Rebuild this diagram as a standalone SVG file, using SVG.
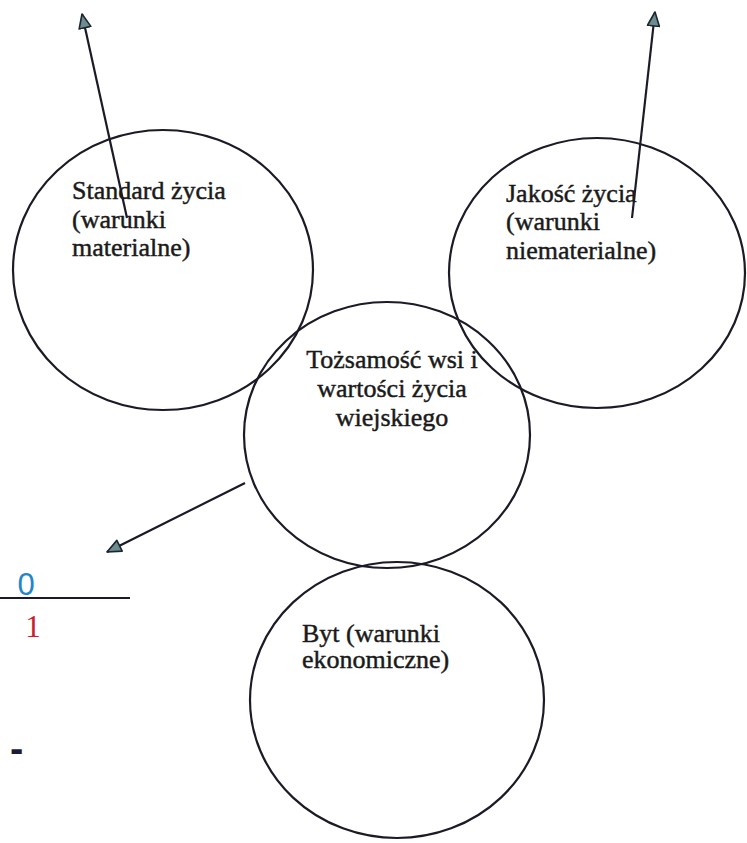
<svg xmlns="http://www.w3.org/2000/svg" width="747" height="843" viewBox="0 0 747 843">
  <style>
    .node { fill: none; stroke: #1b1b28; stroke-width: 2.2; }
    .lbl { font-family: "Liberation Serif", "Times New Roman", serif; font-size: 26px; fill: #1a1a1a; stroke: #1a1a1a; stroke-width: 0.45; }
    .mid { text-anchor: middle; }
    .conn { stroke: #1b1b28; stroke-width: 2.2; fill: none; }
  </style>
  <defs>
    <marker id="arr" markerUnits="userSpaceOnUse" viewBox="0 0 16 14" refX="15" refY="7" markerWidth="16" markerHeight="14" orient="auto">
      <path d="M1,1 L15,7 L1,13 z" fill="#6c8c90" stroke="#1b2630" stroke-width="1.6" stroke-linejoin="round"/>
    </marker>
  </defs>
  <rect width="747" height="843" fill="#ffffff"/>

  <g id="node-standard">
    <ellipse class="node" cx="163" cy="270" rx="150" ry="140"/>
    <text class="lbl" x="72" y="199">Standard życia</text>
    <text class="lbl" x="72" y="228">(warunki</text>
    <text class="lbl" x="72" y="256">materialne)</text>
  </g>

  <g id="node-jakosc">
    <ellipse class="node" cx="597" cy="273" rx="148" ry="135"/>
    <text class="lbl" x="506" y="202">Jakość życia</text>
    <text class="lbl" x="506" y="230">(warunki</text>
    <text class="lbl" x="506" y="259">niematerialne)</text>
  </g>

  <g id="node-tozsamosc">
    <ellipse class="node" cx="387" cy="435" rx="143" ry="133"/>
    <text class="lbl mid" x="392" y="368">Tożsamość wsi i</text>
    <text class="lbl mid" x="392" y="397">wartości życia</text>
    <text class="lbl mid" x="392" y="426">wiejskiego</text>
  </g>

  <g id="node-byt">
    <ellipse class="node" cx="397" cy="700" rx="147" ry="138"/>
    <text class="lbl" x="302" y="642">Byt (warunki</text>
    <text class="lbl" x="302" y="668">ekonomiczne)</text>
  </g>

  <g id="fraction">
    <line x1="0" y1="598" x2="130" y2="598" stroke="#1b1b28" stroke-width="2"/>
    <text x="26" y="595" font-family="Liberation Sans, Arial, sans-serif" font-size="31" fill="#1f86c8" text-anchor="middle">0</text>
    <text x="33" y="637" font-family="Liberation Serif, Times New Roman, serif" font-size="31" fill="#c8202e" text-anchor="middle">1</text>
  </g>

  <g id="dash">
    <text x="10" y="762" font-family="Liberation Sans, Arial, sans-serif" font-size="40" font-weight="bold" fill="#1b1b3a">-</text>
  </g>

  <g id="connectors">
    <line class="conn" x1="127" y1="218" x2="82" y2="14" marker-end="url(#arr)"/>
    <line class="conn" x1="632" y1="218" x2="655" y2="12" marker-end="url(#arr)"/>
    <line class="conn" x1="245" y1="483" x2="107" y2="552" marker-end="url(#arr)"/>
  </g>
</svg>
